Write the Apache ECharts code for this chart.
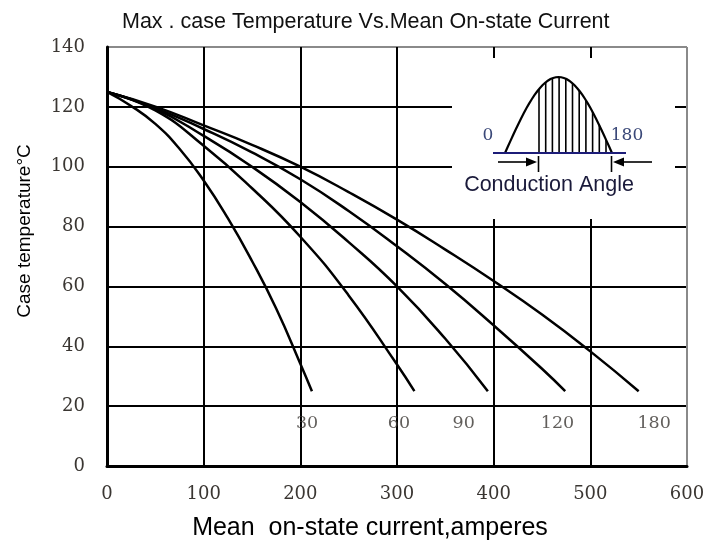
<!DOCTYPE html>
<html>
<head>
<meta charset="utf-8">
<script src="https://cdn.jsdelivr.net/npm/echarts@6/dist/echarts.min.js"></script>
<style>html,body{margin:0;padding:0;background:#fff}#c{width:724px;height:546px}</style>
</head>
<body>
<div id="c"></div>
<script>
// ---- data ----
const xTicks = [0, 100, 200, 300, 400, 500, 600];
const yTicks = [0, 20, 40, 60, 80, 100, 120, 140];

const currents30 = [0, 25, 50, 75, 100, 125, 150, 175, 200, 212];
const temps30    = [125, 120.3, 114.3, 106.0, 95.4, 82.8, 68.5, 52.6, 34.2, 25];

const currents60 = [0, 50, 100, 150, 200, 250, 300, 318];
const temps60    = [125, 118.8, 107.0, 92.8, 76.6, 57.0, 33.9, 25];

const currents90 = [0, 50, 100, 150, 200, 250, 300, 350, 394];
const temps90    = [125, 119.3, 110.3, 100.0, 88.2, 74.8, 60.0, 42.5, 25];

const currents120 = [0, 50, 100, 150, 200, 250, 300, 350, 400, 450, 474];
const temps120    = [125, 119.6, 112.6, 104.8, 95.8, 85.2, 73.4, 60.8, 47.0, 32.5, 25];

const currents180 = [0, 50, 100, 150, 200, 250, 300, 350, 400, 450, 500, 550];
const temps180    = [125, 120.1, 113.8, 107.3, 100.0, 91.5, 82.3, 72.3, 61.8, 50.6, 38.3, 25];

const curveNames  = ['30', '60', '90', '120', '180'];
const labelX      = [207, 302, 369, 466, 566];
const labelY      = [14.3, 14.3, 14.3, 14.3, 14.3];

const titleText = 'Max . case Temperature Vs.Mean On-state Current';
const xName = 'Mean  on-state current,amperes';
const yName = 'Case temperature\u00b0C';
// ---------------------------------------

function pairs(xs, ys) { return xs.map((x, i) => [x, ys[i]]); }

const curveData = [
  pairs(currents30, temps30),
  pairs(currents60, temps60),
  pairs(currents90, temps90),
  pairs(currents120, temps120),
  pairs(currents180, temps180)
];

const serif = 'DejaVu Serif';
const tickColor = '#3a3632';

const series = curveData.map((d, i) => ({
  name: curveNames[i],
  type: 'line',
  data: d,
  showSymbol: false,
  symbol: 'none',
  smooth: 0.5,
  lineStyle: { color: '#000', width: 2.5 },
  z: 3
}));

series.push({
  type: 'scatter',
  symbolSize: 0,
  data: labelX.map((x, i) => ({ value: [x, labelY[i]], name: curveNames[i] })),
  label: {
    show: true,
    position: 'inside',
    formatter: p => p.name,
    fontFamily: serif,
    fontSize: 17.5,
    color: tickColor
  },
  silent: true,
  z: 4
});

// inset diagram (conduction angle illustration)
const inset = { x: 452, y: 58, w: 223, h: 161 };
const base = 153, s0 = 505, s1 = 612, peak = 76;
const sinePts = [];
for (let k = 0; k <= 40; k++) {
  const t = k / 40;
  sinePts.push([s0 + (s1 - s0) * t, base - peak * Math.sin(Math.PI * t)]);
}
const hatch = [];
for (let k = 0; k <= 10; k++) {
  const hx = 539 + k * 6.7;
  const t = (hx - s0) / (s1 - s0);
  hatch.push({ type: 'line', shape: { x1: hx, y1: base, x2: hx, y2: base - peak * Math.sin(Math.PI * t) },
    style: { stroke: '#000', lineWidth: 1.6 }, z: 101 });
}
const navy = '#1c1c78';
const graphics = [
  { type: 'rect', shape: { x: inset.x, y: inset.y, width: inset.w, height: inset.h }, style: { fill: '#fff' }, z: 100 },
  { type: 'polyline', shape: { points: sinePts }, style: { stroke: '#000', lineWidth: 2.2, fill: null }, z: 101 },
  ...hatch,
  { type: 'line', shape: { x1: 493, y1: base, x2: 626, y2: base }, style: { stroke: navy, lineWidth: 2.2 }, z: 102 },
  // left arrow
  { type: 'line', shape: { x1: 498, y1: 162, x2: 528, y2: 162 }, style: { stroke: '#000', lineWidth: 1.6 }, z: 101 },
  { type: 'polygon', shape: { points: [[537, 162], [526, 157.5], [526, 166.5]] }, style: { fill: '#000' }, z: 101 },
  { type: 'line', shape: { x1: 538.5, y1: 156, x2: 538.5, y2: 172 }, style: { stroke: '#000', lineWidth: 1.6 }, z: 101 },
  // right arrow
  { type: 'line', shape: { x1: 652, y1: 162, x2: 622, y2: 162 }, style: { stroke: '#000', lineWidth: 1.6 }, z: 101 },
  { type: 'polygon', shape: { points: [[613, 162], [624, 157.5], [624, 166.5]] }, style: { fill: '#000' }, z: 101 },
  { type: 'line', shape: { x1: 611.5, y1: 156, x2: 611.5, y2: 172 }, style: { stroke: '#000', lineWidth: 1.6 }, z: 101 },
  { type: 'text', x: 488, y: 136, style: { text: '0', font: '17px "DejaVu Serif"', fill: '#3a4878', align: 'center', verticalAlign: 'middle' }, z: 101 },
  { type: 'text', x: 627, y: 136, style: { text: '180', font: '17px "DejaVu Serif"', fill: '#3a4878', align: 'center', verticalAlign: 'middle' }, z: 101 },
  { type: 'text', x: 549, y: 185, style: { text: 'Conduction Angle', font: '21.5px "Liberation Sans"', fill: '#1a1a3a', align: 'center', verticalAlign: 'middle' }, z: 101 }
];

const chart = echarts.init(document.getElementById('c'), null, { renderer: 'canvas' });
chart.setOption({
  animation: false,
  backgroundColor: '#fff',
  title: {
    text: titleText,
    left: 117, top: 6,
    textStyle: { fontFamily: 'Liberation Sans', fontWeight: 'normal', fontSize: 21.5, color: '#111' }
  },
  grid: { left: 107, right: 37, top: 47, bottom: 78, show: false },
  xAxis: {
    type: 'value', min: xTicks[0], max: xTicks[xTicks.length - 1], interval: 100,
    name: xName, nameLocation: 'middle', nameGap: 50,
    nameTextStyle: { fontFamily: 'Liberation Sans', fontSize: 25, color: '#000', padding: [0, 54, 0, 0] },
    axisLine: { show: true, lineStyle: { color: '#000', width: 3 } },
    axisTick: { show: false },
    axisLabel: { margin: 19, fontFamily: serif, fontSize: 18, color: tickColor },
    splitLine: { show: true, lineStyle: { width: 2, color: ['#000', '#000', '#000', '#000', '#000', '#000', '#8a8a8a'] } }
  },
  yAxis: {
    type: 'value', min: yTicks[0], max: yTicks[yTicks.length - 1], interval: 20,
    name: yName, nameLocation: 'middle', nameGap: 73,
    nameTextStyle: { fontFamily: 'Liberation Sans', fontSize: 19, color: '#000', padding: [0, 0, 0, 51] },
    axisLine: { show: true, lineStyle: { color: '#000', width: 3 } },
    axisTick: { show: false },
    axisLabel: { margin: 22, fontFamily: serif, fontSize: 18, color: tickColor },
    splitLine: { show: true, lineStyle: { width: 2, color: ['#000', '#000', '#000', '#000', '#000', '#000', '#000', '#8a8a8a'] } }
  },
  series: series,
  graphic: graphics
});
</script>
</body>
</html>
